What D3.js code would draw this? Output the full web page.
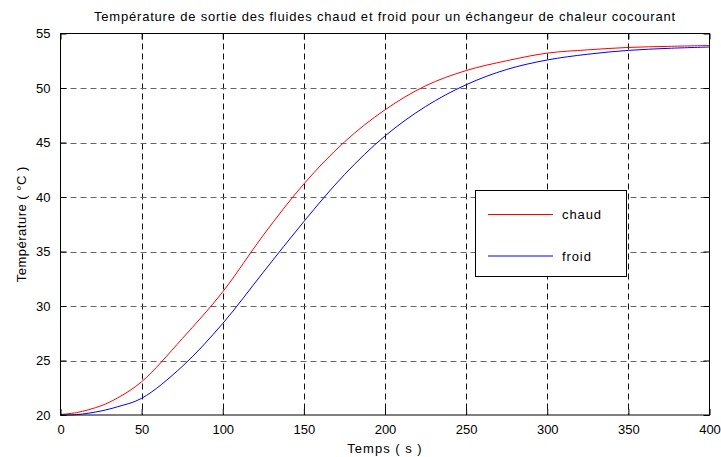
<!DOCTYPE html>
<html><head><meta charset="utf-8">
<script src="https://cdn.jsdelivr.net/npm/d3@7"></script>
<style>body{margin:0;background:#fff}svg{display:block}text{font-family:"Liberation Sans",Arial,sans-serif;fill:#000}</style>
</head><body>
<svg id="c" width="721" height="457"></svg>
<script>
const time  = [0,10,25,35,50,75,100,125,150,175,200,225,250,275,300,325,350,375,400];
const chaud = [20.05,20.22,20.85,21.55,23.05,27.0,31.3,36.5,41.2,45.05,48.0,50.2,51.6,52.5,53.2,53.5,53.72,53.82,53.9];
const froid = [20.0,20.03,20.37,20.75,21.53,24.45,28.4,33.1,37.75,42.05,45.6,48.3,50.3,51.7,52.57,53.1,53.45,53.64,53.76];
const xTicks = [0,50,100,150,200,250,300,350,400];
const yTicks = [20,25,30,35,40,45,50,55];
const seriesNames = ["chaud","froid"];
const seriesColors = ["#ff0000","#0000ff"];
const title = "Température de sortie des fluides chaud et froid pour un échangeur de chaleur cocourant";

const svg = d3.select("#c");
const L=60.5, R=709.5, T=33.5, B=415;
const x = d3.scaleLinear().domain([0,400]).range([L,R]);
const y = d3.scaleLinear().domain([20,55]).range([B,T]);

// grid
const g = svg.append("g");
g.selectAll(".vg").data(xTicks.slice(1,-1)).join("line")
  .attr("x1",d=>Math.round(x(d))+0.5).attr("x2",d=>Math.round(x(d))+0.5)
  .attr("y1",T).attr("y2",B).attr("stroke","#111").attr("stroke-dasharray","6,4");
g.selectAll(".hg").data(yTicks.slice(1,-1)).join("line")
  .attr("y1",d=>Math.round(y(d))+0.5).attr("y2",d=>Math.round(y(d))+0.5)
  .attr("x1",L).attr("x2",R).attr("stroke","#666").attr("stroke-dasharray","6,4");

// curves
const line = d3.line().curve(d3.curveCatmullRom.alpha(0.5));
[chaud,froid].forEach((s,i)=>{
  svg.append("path").attr("d",line(time.map((t,j)=>[x(t),y(s[j])])))
    .attr("fill","none").attr("stroke",seriesColors[i]).attr("stroke-width",1);
});

// axes
const xa = svg.append("g").attr("transform",`translate(0,${B})`)
  .call(d3.axisBottom(x).tickValues(xTicks).tickSize(-6).tickPadding(10).tickFormat(d3.format("d")));
const xt = svg.append("g").attr("transform",`translate(0,${T})`)
  .call(d3.axisTop(x).tickValues(xTicks).tickSize(-6).tickFormat(""));
const ya = svg.append("g").attr("transform",`translate(${L},0)`)
  .call(d3.axisLeft(y).tickValues(yTicks).tickSize(-6).tickPadding(10).tickFormat(d3.format("d")));
const yr = svg.append("g").attr("transform",`translate(${R},0)`)
  .call(d3.axisRight(y).tickValues(yTicks).tickSize(-6).tickFormat(""));
[xa,xt,ya,yr].forEach(a=>{
  a.select(".domain").remove();
  a.selectAll("line").attr("stroke","#000");
  a.selectAll("text").attr("font-size",13).attr("font-family","Liberation Sans, Arial, sans-serif").attr("fill","#000");
});
svg.append("rect").attr("x",L).attr("y",T).attr("width",R-L).attr("height",B-T)
  .attr("fill","none").attr("stroke","#000").attr("stroke-width",1);

// titles
svg.append("text").attr("x",(L+R)/2).attr("y",21).attr("text-anchor","middle").attr("font-size",13)
  .attr("letter-spacing",0.8).text(title);
svg.append("text").attr("x",(L+R)/2).attr("y",453).attr("text-anchor","middle").attr("font-size",13)
  .attr("letter-spacing",1).text("Temps ( s )");
svg.append("text").attr("transform",`translate(26,${(T+B)/2}) rotate(-90)`).attr("text-anchor","middle").attr("font-size",13)
  .attr("letter-spacing",0.5).text("Température ( °C )");

// legend
const lg = svg.append("g");
lg.append("rect").attr("x",475.5).attr("y",190.5).attr("width",151).attr("height",86).attr("fill","#fff").attr("stroke","#000");
seriesNames.forEach((n,i)=>{
  const yy = 214.5 + i*41.5;
  lg.append("line").attr("x1",488).attr("x2",553).attr("y1",yy).attr("y2",yy).attr("stroke",seriesColors[i]);
  lg.append("text").attr("x",562).attr("y",yy+4.5).attr("font-size",13).attr("letter-spacing",0.9).text(n);
});
</script>
</body></html>
